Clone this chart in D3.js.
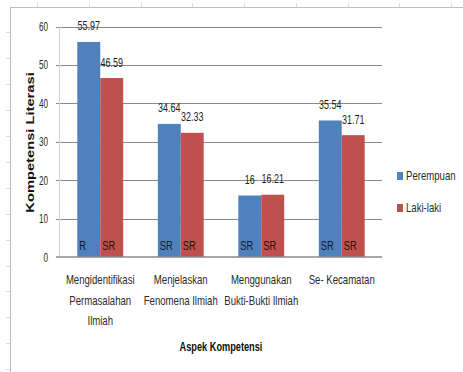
<!DOCTYPE html>
<html>
<head>
<meta charset="utf-8">
<script src="https://cdn.jsdelivr.net/npm/d3@7"></script>
<style>
  html, body { margin: 0; padding: 0; background: #fff; }
  svg { display: block; }
  text { font-family: "Liberation Sans", Arial, sans-serif; }
</style>
</head>
<body>
<svg id="chart" width="463" height="372"></svg>
<script>
const categories = [
  ["Mengidentifikasi", "Permasalahan", "Ilmiah"],
  ["Menjelaskan", "Fenomena Ilmiah"],
  ["Menggunakan", "Bukti-Bukti Ilmiah"],
  ["Se- Kecamatan"]
];
const categoryKeys = ["c1", "c2", "c3", "c4"];
const seriesNames = ["Perempuan", "Laki-laki"];
const perempuan = [55.97, 34.64, 16, 35.54];
const lakiLaki = [46.59, 32.33, 16.21, 31.71];
const perempuanLabels = ["55.97", "34.64", "16", "35.54"];
const lakiLakiLabels = ["46.59", "32.33", "16.21", "31.71"];
const perempuanInner = ["R", "SR", "SR", "SR"];
const lakiLakiInner = ["SR", "SR", "SR", "SR"];
const yTicks = [0, 10, 20, 30, 40, 50, 60];
const yTitle = "Kompetensi Literasi";
const xTitle = "Aspek Kompetensi";

const colors = ["#4f81bd", "#c0504d"];
const innerColors = ["#101a30", "#2a0c0c"];

const svg = d3.select("#chart");
svg.append("rect").attr("width", 463).attr("height", 372).attr("fill", "#fff");

// condensed text helper (no narrow font installed)
function ntext(parent, x, y, str, size, opts = {}) {
  const sx = opts.sx ?? 0.8, sy = opts.sy ?? 1.1;
  return parent.append("text")
    .attr("transform", `translate(${x},${y}) scale(${sx},${sy})`)
    .attr("text-anchor", opts.anchor || "start")
    .attr("font-size", size)
    .attr("font-weight", opts.weight || "normal")
    .attr("fill", opts.fill || "#2b2b2b")
    .text(str);
}

// outer frame (cropped) with ruler marks
const frame = svg.append("g");
frame.append("line").attr("x1", 10).attr("x2", 463).attr("y1", 7.5).attr("y2", 7.5)
  .attr("stroke", "#bdbdbd").attr("stroke-width", 1);
frame.append("line").attr("x1", 10.5).attr("x2", 10.5).attr("y1", 7).attr("y2", 372)
  .attr("stroke", "#bdbdbd").attr("stroke-width", 1);
for (let xx = 37; xx < 463; xx += 51.75) {
  frame.append("line").attr("x1", Math.round(xx) + 0.5).attr("x2", Math.round(xx) + 0.5)
    .attr("y1", 3).attr("y2", 7).attr("stroke", "#dcdcdc");
}
for (let yy = 32; yy < 372; yy += 25.95) {
  frame.append("line").attr("y1", Math.round(yy) + 0.5).attr("y2", Math.round(yy) + 0.5)
    .attr("x1", 6).attr("x2", 10).attr("stroke", "#dcdcdc");
}

const pLeft = 60, pRight = 382, pTop = 26.5, pBottom = 257;
const x0 = d3.scaleBand().domain(categoryKeys).range([pLeft, pRight])
  .paddingInner(0.43).paddingOuter(0.215);
const x1 = d3.scaleBand().domain(seriesNames).range([0, x0.bandwidth()]);
const y = d3.scaleLinear().domain([0, 60]).range([pBottom, pTop]);

// gridlines + tick marks
const grid = svg.append("g");
yTicks.forEach(t => {
  if (t === 0) return;
  grid.append("line").attr("x1", 56).attr("x2", pRight)
    .attr("y1", Math.round(y(t)) + 0.5).attr("y2", Math.round(y(t)) + 0.5)
    .attr("stroke", "#8a8a8a").attr("stroke-width", 1);
});
// vertical axis line
svg.append("line").attr("x1", 59.5).attr("x2", 59.5).attr("y1", pTop).attr("y2", pBottom)
  .attr("stroke", "#d4d4d4").attr("stroke-width", 1);

// y tick labels
const tickG = svg.append("g");
yTicks.forEach(t => ntext(tickG, 48, y(t) + 4.5, t, 12, { anchor: "end", sx: 0.68, sy: 1.08 }));

// bars
const seriesData = [
  { name: seriesNames[0], values: perempuan, labels: perempuanLabels, inner: perempuanInner },
  { name: seriesNames[1], values: lakiLaki, labels: lakiLakiLabels, inner: lakiLakiInner }
];
seriesData.forEach((s, si) => {
  const g = svg.append("g");
  g.selectAll("rect").data(s.values).join("rect")
    .attr("x", (d, i) => x0(categoryKeys[i]) + x1(s.name))
    .attr("width", x1.bandwidth())
    .attr("y", d => y(d))
    .attr("height", d => y(0) - y(d))
    .attr("fill", colors[si]);
  s.values.forEach((v, i) => {
    const bx = x0(categoryKeys[i]) + x1(s.name);
    ntext(g, bx + x1.bandwidth() / 2, y(v) - 11.5, s.labels[i], 11.5, { anchor: "middle", fill: "#1e1e1e", sx: 0.78, sy: 1.1 });
    ntext(g, bx + 2, 250, s.inner[i], 12, { fill: innerColors[si], sx: 0.78, sy: 1.1 });
  });
});

// bottom axis line
svg.append("line").attr("x1", 56).attr("x2", pRight).attr("y1", pBottom).attr("y2", pBottom)
  .attr("stroke", "#8a8a8a").attr("stroke-width", 1.5);

// x category labels
const xl = svg.append("g");
categories.forEach((lines, i) => {
  const cx = x0(categoryKeys[i]) + x0.bandwidth() / 2;
  lines.forEach((ln, j) => {
    ntext(xl, cx, 284 + j * 20.5, ln, 12, { anchor: "middle", sx: 0.8, sy: 1.12 });
  });
});

// axis titles
ntext(svg, (pLeft + pRight) / 2, 351, xTitle, 11.5, { anchor: "middle", weight: "bold", fill: "#111", sx: 0.8, sy: 1.12 });
svg.append("text")
  .attr("transform", "translate(33.5,142.5) rotate(-90) scale(1.4,1)")
  .attr("text-anchor", "middle")
  .attr("font-size", 10.5).attr("font-weight", "bold").attr("fill", "#111")
  .text(yTitle);

// legend
const legY = [172, 204];
const lg = svg.append("g");
seriesNames.forEach((n, i) => {
  lg.append("rect").attr("x", 397).attr("y", legY[i]).attr("width", 6).attr("height", 8)
    .attr("fill", colors[i]);
  ntext(lg, 406, legY[i] + 8, n, 12, { sx: 0.8, sy: 1.12 });
});
</script>
</body>
</html>
